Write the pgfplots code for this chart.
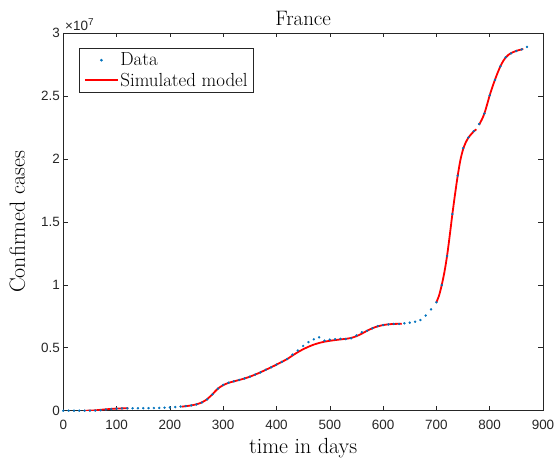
\documentclass[border=0pt]{standalone}
\usepackage{pgfplots}
\usepackage{pgfplotstable}
\pgfplotsset{compat=1.18}
\usepackage{fontspec}
\newfontfamily\ticksans{Liberation Sans}
\definecolor{dataBlue}{rgb}{0,0.447,0.741}
\definecolor{axGray}{rgb}{0.15,0.15,0.15}
\definecolor{modelRed}{rgb}{1,0,0}

% Legend samples: a long red line for the model, a single dot for the data
\pgfplotsset{
  modelleg/.style={legend image code/.code={\draw[modelRed, line width=1.8bp] (0bp,0bp) -- (33bp,0bp);}},
  dataleg/.style={legend image code/.code={\fill[dataBlue] (16.5bp,0bp) circle[radius=1.1bp];}},
}

% Confirmed cases (in units of 10^7), one sample every 10 days
\pgfplotstableread{
day cases
0 0
10 0
20 0
30 0
40 0
50 0.0002
60 0.001
70 0.004
80 0.009
90 0.013
100 0.016
110 0.018
120 0.019
130 0.019
140 0.0195
150 0.02
160 0.0205
170 0.021
180 0.022
190 0.024
200 0.026
210 0.029
220 0.033
230 0.037
240 0.042
250 0.05
260 0.065
270 0.09
280 0.13
290 0.175
300 0.205
310 0.222
320 0.233
330 0.244
340 0.256
350 0.27
360 0.287
370 0.305
380 0.325
390 0.345
400 0.366
410 0.388
420 0.41
430 0.445
440 0.478
450 0.514
460 0.545
470 0.567
480 0.583
490 0.556
500 0.564
510 0.568
520 0.571
530 0.569
540 0.575
550 0.598
560 0.623
570 0.635
580 0.655
590 0.672
600 0.68
610 0.686
620 0.689
630 0.689
640 0.694
650 0.699
660 0.707
670 0.72
680 0.756
690 0.805
700 0.861
710 0.998
720 1.229
730 1.562
740 1.867
750 2.085
760 2.17
770 2.22
780 2.277
790 2.36
800 2.505
810 2.627
820 2.735
830 2.807
840 2.838
850 2.857
860 2.87
870 2.889
}\confirmed

% Fitted model, one table per fitting window
\pgfplotstableread{
day cases
40 0
50 0.0008
60 0.003
70 0.007
80 0.011
90 0.0145
100 0.017
110 0.0185
122 0.019
}\modelA

\pgfplotstableread{
day cases
222 0.032
230 0.036
240 0.042
250 0.051
260 0.066
270 0.092
280 0.132
290 0.175
300 0.203
310 0.221
320 0.233
330 0.244
340 0.256
350 0.27
360 0.287
370 0.305
380 0.325
390 0.345
400 0.366
410 0.388
420 0.41
430 0.438
440 0.465
450 0.488
460 0.508
470 0.525
480 0.538
490 0.548
500 0.555
510 0.561
520 0.566
530 0.571
540 0.578
550 0.592
560 0.612
570 0.635
580 0.655
590 0.67
600 0.68
610 0.686
620 0.689
635 0.691
}\modelB

\pgfplotstableread{
day cases
700 0.861
705 0.915
710 0.998
715 1.10
720 1.229
725 1.39
730 1.562
735 1.72
740 1.867
745 1.99
750 2.075
755 2.13
760 2.168
765 2.195
770 2.218
775 2.235
}\modelC

\pgfplotstableread{
day cases
780 2.27
785 2.31
790 2.36
795 2.43
800 2.505
805 2.57
810 2.63
815 2.685
820 2.735
825 2.775
830 2.805
835 2.826
840 2.84
850 2.858
863 2.873
}\modelD

\begin{document}
\begin{tikzpicture}
\useasboundingbox (-63.3bp,-48.3bp) rectangle (496.7bp,410.7bp);
\begin{axis}[
  name=ax,
  at={(0,0)}, anchor=south west,
  scale only axis, width=479.7bp, height=377.7bp,
  xmin=0, xmax=900, ymin=0, ymax=3,
  xtick={0,100,...,900},
  xticklabels={0,100,200,300,400,500,600,700,800,900},
  ytick={0,0.5,1,1.5,2,2.5,3},
  yticklabels={0,0.5,1,1.5,2,2.5,3},
  tick align=inside,
  major tick length=4.5bp,
  tick style={axGray, line width=0.5bp},
  axis line style={axGray, line width=0.5bp},
  xticklabel style={font=\ticksans\fontsize{13.5}{16}\selectfont, text=axGray, yshift=-6.3bp},
  yticklabel style={font=\ticksans\fontsize{13.5}{16}\selectfont, text=axGray},
  title={France},
  title style={at={(axis description cs:0.5,1)}, anchor=base, yshift=2bp, font=\fontsize{21}{25}\selectfont},
  xlabel={time in days},
  xlabel style={at={(axis description cs:0.5,0)}, anchor=base, yshift=-42.5bp, font=\fontsize{22}{26}\selectfont},
  ylabel={Confirmed cases},
  ylabel style={at={([xshift=-38.3bp]axis description cs:0,0.5)}, anchor=base, font=\fontsize{22}{26}\selectfont},
  legend style={at={(axis description cs:0,1)}, anchor=north west, xshift=16bp, yshift=-14.7bp,
    draw=axGray, line width=0.5bp, fill=white, font=\fontsize{19}{22}\selectfont,
    inner xsep=4.5bp, inner ysep=3.5bp, row sep=2.5bp, nodes={inner sep=1.5bp}},
  legend cell align=left,
  reverse legend,
]
\addplot[modelRed, line width=1.8bp, smooth, modelleg] table[x=day, y=cases] {\modelA};
\addlegendentry{Simulated model}
\addplot[modelRed, line width=1.8bp, smooth, forget plot] table[x=day, y=cases] {\modelB};
\addplot[modelRed, line width=1.8bp, smooth, forget plot] table[x=day, y=cases] {\modelC};
\addplot[modelRed, line width=1.8bp, smooth, forget plot] table[x=day, y=cases] {\modelD};
\addplot[only marks, mark=*, mark size=1.1bp, mark options={draw=dataBlue, fill=dataBlue, line width=0.2bp}, dataleg]
  table[x=day, y=cases] {\confirmed};
\addlegendentry{Data}
\end{axis}
% exponent of the y tick labels
\node[anchor=base west, inner sep=0pt, xshift=1.7bp, yshift=2bp, text=axGray,
  font=\ticksans\fontsize{13.5}{16}\selectfont] at (ax.north west)
  {×10\raisebox{0.8ex}{\fontsize{10}{12}\selectfont 7}};
\end{tikzpicture}
\end{document}
